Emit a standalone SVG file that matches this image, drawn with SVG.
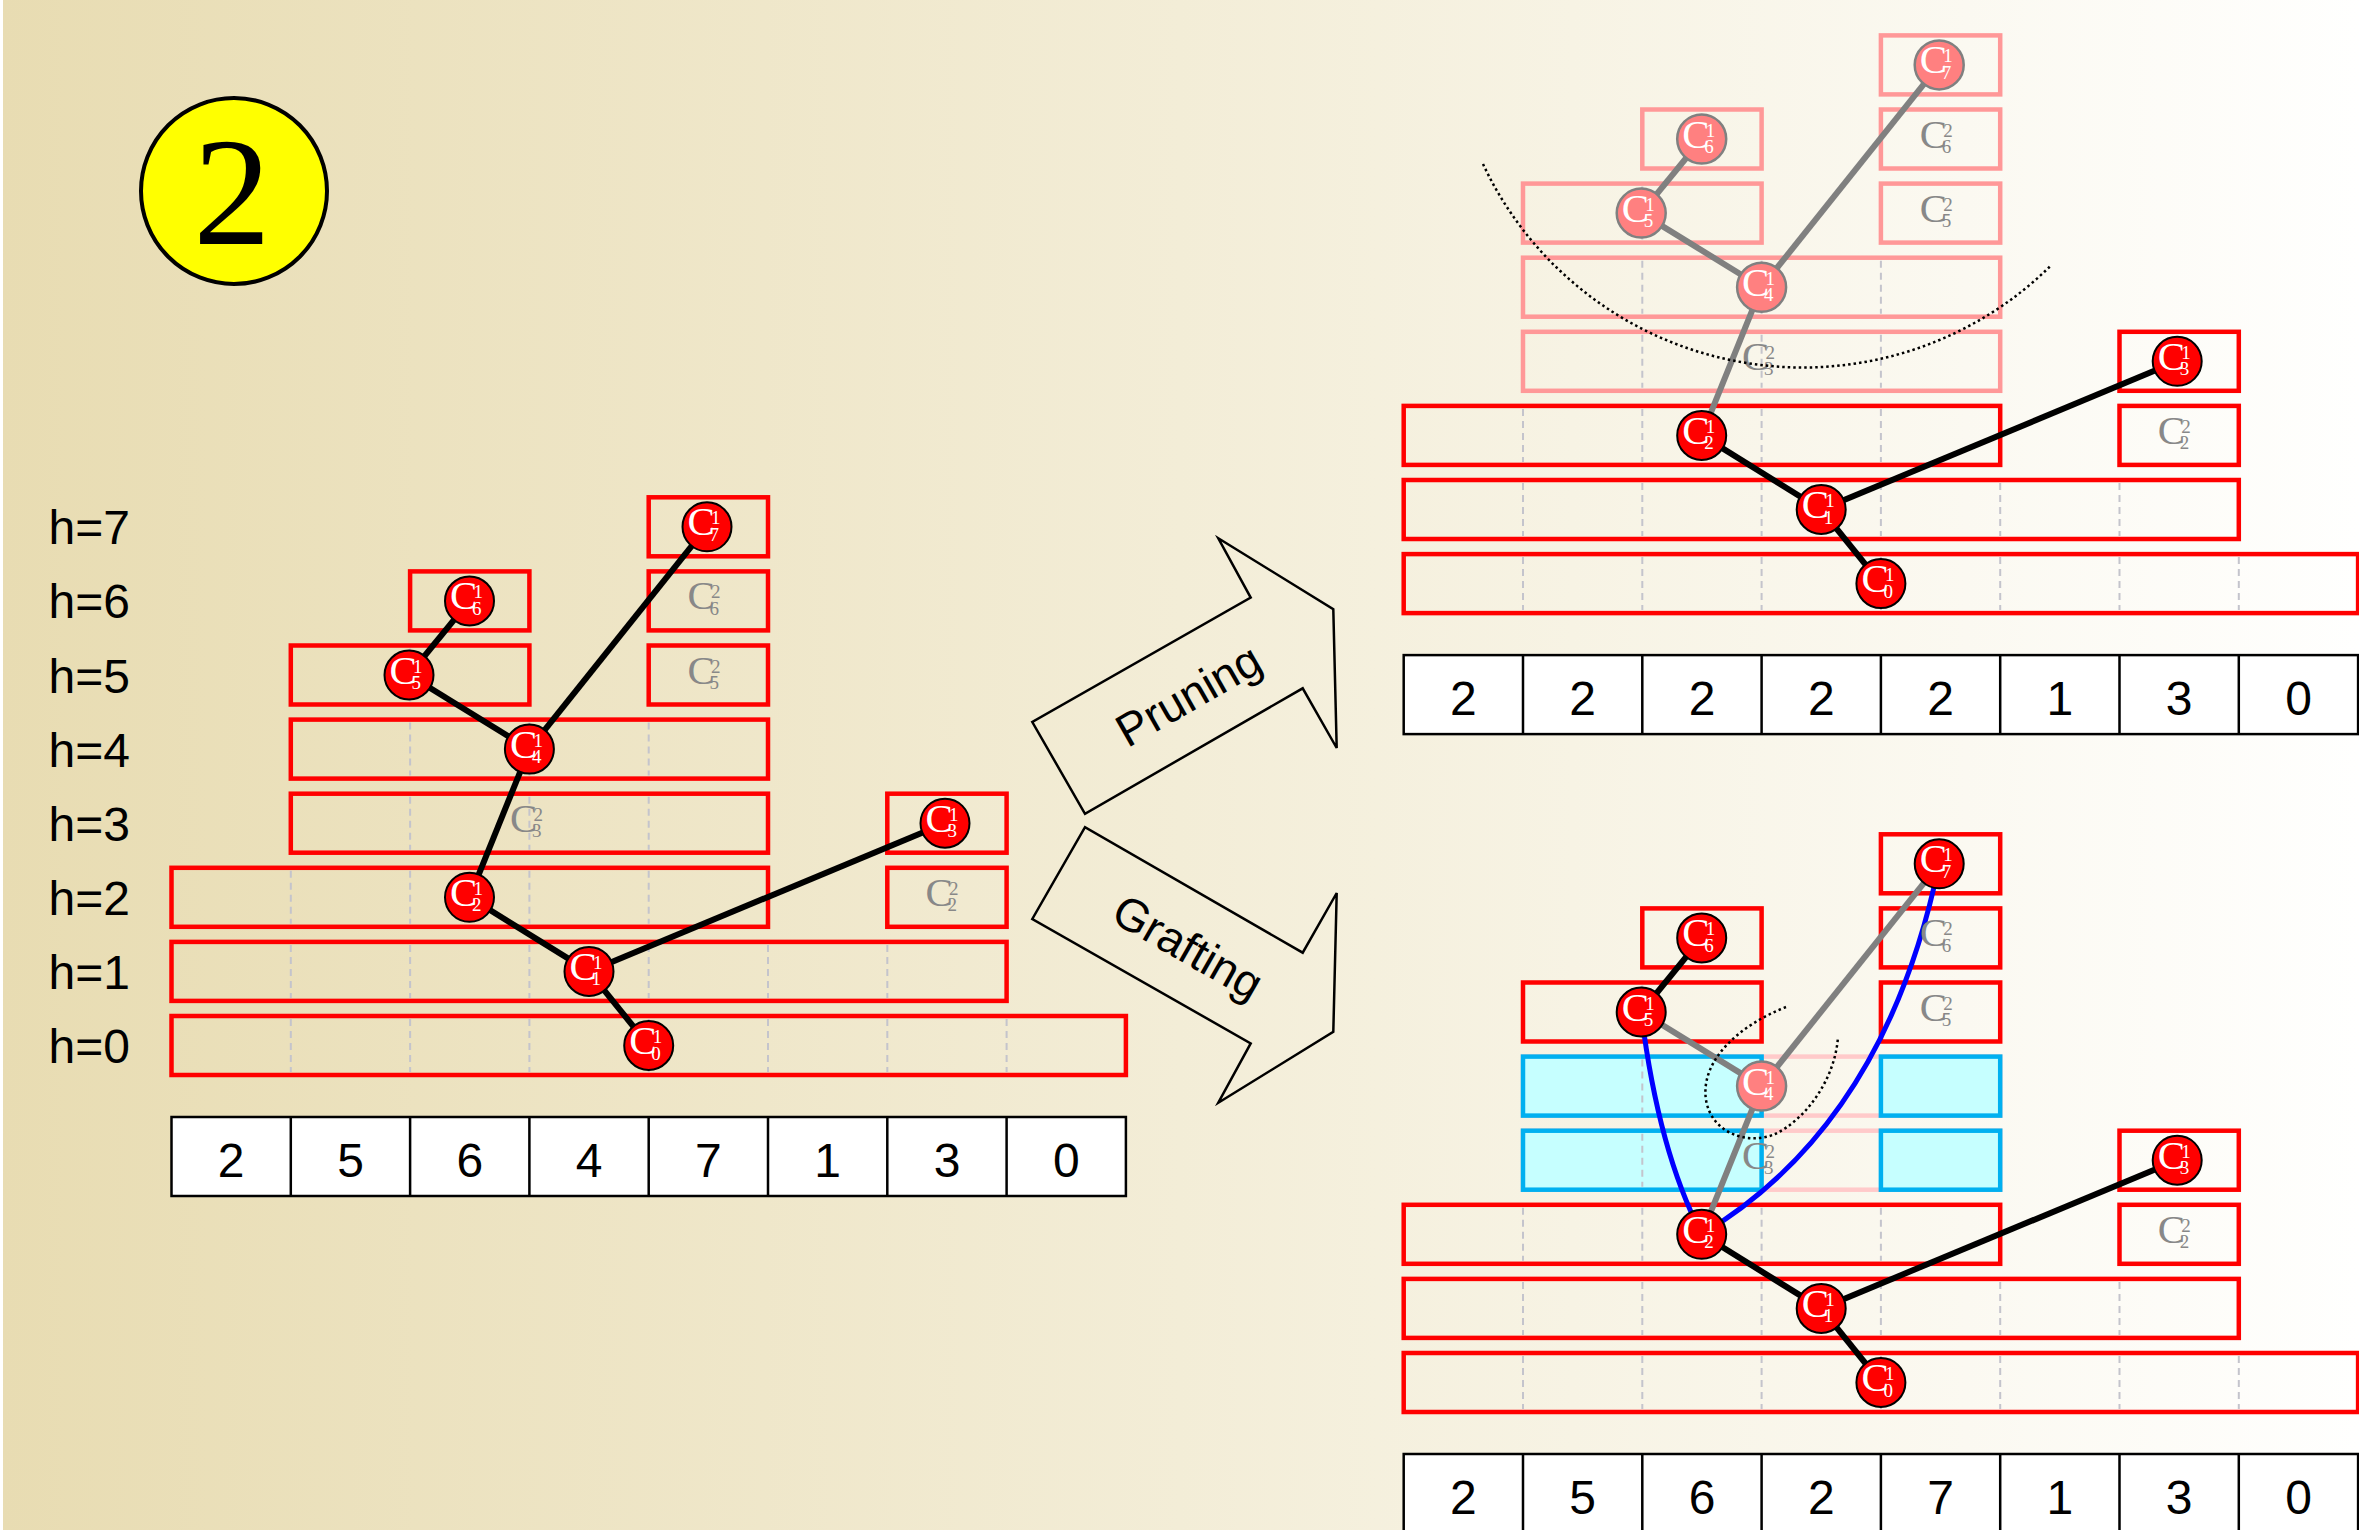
<svg xmlns="http://www.w3.org/2000/svg" width="2359" height="1530" viewBox="0 0 2359 1530">
  <defs>
    <linearGradient id="bgGrad" x1="0" y1="0" x2="1" y2="0">
      <stop offset="0" stop-color="#E8DCB2"/>
      <stop offset="0.5" stop-color="#F3EDD7"/>
      <stop offset="1" stop-color="#FFFFFE"/>
    </linearGradient>
    <style>
      .row{fill:none;stroke:#FF0000;stroke-width:4.5}
      .row-f{fill:none;stroke:#FF9898;stroke-width:4.5}
      .row-g{fill:none;stroke:#FFCACA;stroke-width:4.5}
      .row-c{fill:#C6FFFF;stroke:#00B0F0;stroke-width:4.5}
      .grid{fill:none;stroke:#C4C4CC;stroke-width:2;stroke-dasharray:7 5}
      .edge{stroke:#000;stroke-width:6}
      .edge-f{stroke:#808080;stroke-width:6}
      .graft{fill:none;stroke:#0000FF;stroke-width:5}
      .cut{fill:none;stroke:#000;stroke-width:2.5;stroke-dasharray:2.5 3}
      .nd circle{fill:#FF0000;stroke:#000;stroke-width:2}
      .nd.f circle{fill:#FF8080;stroke:#808080;stroke-width:2.5}
      .nd text{fill:#FFFFFF}
      .gh text{fill:#888888}
      .cb{font-family:"Liberation Serif","Times New Roman",serif;font-size:41px}
      .cs{font-size:19px}
      .cell{fill:#FFFFFF;stroke:#000;stroke-width:2.5}
      .num{font-family:"Liberation Sans",Arial,sans-serif;font-size:48px;text-anchor:middle;fill:#000}
      .hl{font-family:"Liberation Sans",Arial,sans-serif;font-size:48px;fill:#000}
      .arrow{fill:none;stroke:#000;stroke-width:2.5;stroke-linejoin:miter}
      .alabel{font-family:"Liberation Sans",Arial,sans-serif;font-size:46px;text-anchor:middle;fill:#000}
    </style>
  </defs>

  <!-- background -->
  <rect x="0" y="0" width="2359" height="1530" fill="url(#bgGrad)"/>
  <rect x="0" y="0" width="3" height="1530" fill="#FFFFFF"/>

  <!-- step badge -->
  <g id="step-badge">
    <circle cx="234" cy="191" r="93" fill="#FFFF00" stroke="#000" stroke-width="4"/>
    <text x="232" y="244" font-family="Liberation Serif, Times New Roman, serif" font-size="155" text-anchor="middle" fill="#000">2</text>
  </g>

  <!-- height labels -->
  <g id="height-labels">
    <text class="hl" x="48.5" y="544.3">h=7</text>
    <text class="hl" x="48.5" y="618.4">h=6</text>
    <text class="hl" x="48.5" y="692.5">h=5</text>
    <text class="hl" x="48.5" y="766.6">h=4</text>
    <text class="hl" x="48.5" y="840.7">h=3</text>
    <text class="hl" x="48.5" y="914.8">h=2</text>
    <text class="hl" x="48.5" y="988.9">h=1</text>
    <text class="hl" x="48.5" y="1063">h=0</text>
  </g>

  <!-- operation arrows -->
  <g id="arrow-pruning">
    <polygon class="arrow" points="1218.3,538.3 1333.3,609.1 1336.7,748 1302.7,688.3 1085,813.8 1032.3,722 1250.7,597.6"/>
    <text class="alabel" transform="translate(1188.5,695) rotate(-29.7)" y="16">Pruning</text>
  </g>
  <g id="arrow-grafting">
    <polygon class="arrow" points="1218.3,1102.7 1333.3,1031.9 1336.7,893 1302.7,952.7 1085,827.2 1032.3,919 1250.7,1043.4"/>
    <text class="alabel" transform="translate(1188,947) rotate(29.7)" y="16">Grafting</text>
  </g>

  <!-- ===================== input tree ===================== -->
  <g id="panel-input">
    <g id="input-rows">
      <rect class="row" x="171.5" y="1016" width="954.4" height="59"/>
      <rect class="row" x="171.5" y="941.9" width="835.1" height="59"/>
      <rect class="row" x="171.5" y="867.8" width="596.5" height="59"/>
      <rect class="row" x="290.8" y="793.7" width="477.2" height="59"/>
      <rect class="row" x="290.8" y="719.6" width="477.2" height="59"/>
      <rect class="row" x="290.8" y="645.5" width="238.6" height="59"/>
      <rect class="row" x="410.1" y="571.4" width="119.3" height="59"/>
      <rect class="row" x="648.7" y="497.3" width="119.3" height="59"/>
      <rect class="row" x="648.7" y="571.4" width="119.3" height="59"/>
      <rect class="row" x="648.7" y="645.5" width="119.3" height="59"/>
      <rect class="row" x="887.3" y="793.7" width="119.3" height="59"/>
      <rect class="row" x="887.3" y="867.8" width="119.3" height="59"/>
    </g>
    <path class="grid" d="M290.8 1019V1072M410.1 1019V1072M529.4 1019V1072M648.7 1019V1072M768 1019V1072M887.3 1019V1072M1006.6 1019V1072M290.8 944.9V997.9M410.1 944.9V997.9M529.4 944.9V997.9M648.7 944.9V997.9M768 944.9V997.9M887.3 944.9V997.9M290.8 870.8V923.8M410.1 870.8V923.8M529.4 870.8V923.8M648.7 870.8V923.8M410.1 796.7V849.7M529.4 796.7V849.7M648.7 796.7V849.7M410.1 722.6V775.6M529.4 722.6V775.6M648.7 722.6V775.6M410.1 648.5V701.5"/>
    <g id="input-connectors">
      <line class="edge" x1="469.5" y1="600.9" x2="409" y2="675"/>
      <line class="edge" x1="409" y1="675" x2="529.4" y2="749.1"/>
      <line class="edge" x1="529.4" y1="749.1" x2="707" y2="526.8"/>
      <line class="edge" x1="529.4" y1="749.1" x2="469.5" y2="897.3"/>
      <line class="edge" x1="469.5" y1="897.3" x2="589" y2="971.4"/>
      <line class="edge" x1="589" y1="971.4" x2="945" y2="823.2"/>
      <line class="edge" x1="589" y1="971.4" x2="648.7" y2="1045.5"/>
    </g>
    <g id="in-c23" class="gh" transform="translate(529.4,823.2)"><text class="cb" x="-19.5" y="8.5">C<tspan class="cs" x="4" y="-2.5">2</tspan><tspan class="cs" x="2.5" y="14">3</tspan></text></g>
    <g id="in-c26" class="gh" transform="translate(707,600.9)"><text class="cb" x="-19.5" y="8.5">C<tspan class="cs" x="4" y="-2.5">2</tspan><tspan class="cs" x="2.5" y="14">6</tspan></text></g>
    <g id="in-c25" class="gh" transform="translate(707,675)"><text class="cb" x="-19.5" y="8.5">C<tspan class="cs" x="4" y="-2.5">2</tspan><tspan class="cs" x="2.5" y="14">5</tspan></text></g>
    <g id="in-c22" class="gh" transform="translate(945,897.3)"><text class="cb" x="-19.5" y="8.5">C<tspan class="cs" x="4" y="-2.5">2</tspan><tspan class="cs" x="2.5" y="14">2</tspan></text></g>
    <g id="in-c10" class="nd" transform="translate(648.7,1045.5)"><circle r="24.5"/><text class="cb" x="-19.5" y="8.5">C<tspan class="cs" x="4" y="-2.5">1</tspan><tspan class="cs" x="2.5" y="14">0</tspan></text></g>
    <g id="in-c11" class="nd" transform="translate(589,971.4)"><circle r="24.5"/><text class="cb" x="-19.5" y="8.5">C<tspan class="cs" x="4" y="-2.5">1</tspan><tspan class="cs" x="2.5" y="14">1</tspan></text></g>
    <g id="in-c12" class="nd" transform="translate(469.5,897.3)"><circle r="24.5"/><text class="cb" x="-19.5" y="8.5">C<tspan class="cs" x="4" y="-2.5">1</tspan><tspan class="cs" x="2.5" y="14">2</tspan></text></g>
    <g id="in-c13" class="nd" transform="translate(945,823.2)"><circle r="24.5"/><text class="cb" x="-19.5" y="8.5">C<tspan class="cs" x="4" y="-2.5">1</tspan><tspan class="cs" x="2.5" y="14">3</tspan></text></g>
    <g id="in-c14" class="nd" transform="translate(529.4,749.1)"><circle r="24.5"/><text class="cb" x="-19.5" y="8.5">C<tspan class="cs" x="4" y="-2.5">1</tspan><tspan class="cs" x="2.5" y="14">4</tspan></text></g>
    <g id="in-c15" class="nd" transform="translate(409,675)"><circle r="24.5"/><text class="cb" x="-19.5" y="8.5">C<tspan class="cs" x="4" y="-2.5">1</tspan><tspan class="cs" x="2.5" y="14">5</tspan></text></g>
    <g id="in-c16" class="nd" transform="translate(469.5,600.9)"><circle r="24.5"/><text class="cb" x="-19.5" y="8.5">C<tspan class="cs" x="4" y="-2.5">1</tspan><tspan class="cs" x="2.5" y="14">6</tspan></text></g>
    <g id="in-c17" class="nd" transform="translate(707,526.8)"><circle r="24.5"/><text class="cb" x="-19.5" y="8.5">C<tspan class="cs" x="4" y="-2.5">1</tspan><tspan class="cs" x="2.5" y="14">7</tspan></text></g>
    <g id="in-table">
      <rect class="cell" x="171.5" y="1117" width="954.4" height="79"/>
      <path stroke="#000" stroke-width="2.5" d="M290.8 1117V1196M410.1 1117V1196M529.4 1117V1196M648.7 1117V1196M768 1117V1196M887.3 1117V1196M1006.6 1117V1196"/>
      <text class="num" x="231.2" y="1177">2</text>
      <text class="num" x="350.5" y="1177">5</text>
      <text class="num" x="469.8" y="1177">6</text>
      <text class="num" x="589.1" y="1177">4</text>
      <text class="num" x="708.4" y="1177">7</text>
      <text class="num" x="827.7" y="1177">1</text>
      <text class="num" x="947" y="1177">3</text>
      <text class="num" x="1066.3" y="1177">0</text>
    </g>
  </g>

  <!-- ===================== pruned tree ===================== -->
  <g id="panel-pruned" transform="translate(1232.2,-461.9)">
    <g id="pruned-rows">
      <rect class="row" x="171.5" y="1016" width="954.4" height="59"/>
      <rect class="row" x="171.5" y="941.9" width="835.1" height="59"/>
      <rect class="row" x="171.5" y="867.8" width="596.5" height="59"/>
      <rect class="row-f" x="290.8" y="793.7" width="477.2" height="59"/>
      <rect class="row-f" x="290.8" y="719.6" width="477.2" height="59"/>
      <rect class="row-f" x="290.8" y="645.5" width="238.6" height="59"/>
      <rect class="row-f" x="410.1" y="571.4" width="119.3" height="59"/>
      <rect class="row-f" x="648.7" y="497.3" width="119.3" height="59"/>
      <rect class="row-f" x="648.7" y="571.4" width="119.3" height="59"/>
      <rect class="row-f" x="648.7" y="645.5" width="119.3" height="59"/>
      <rect class="row" x="887.3" y="793.7" width="119.3" height="59"/>
      <rect class="row" x="887.3" y="867.8" width="119.3" height="59"/>
    </g>
    <path class="grid" d="M290.8 1019V1072M410.1 1019V1072M529.4 1019V1072M648.7 1019V1072M768 1019V1072M887.3 1019V1072M1006.6 1019V1072M290.8 944.9V997.9M410.1 944.9V997.9M529.4 944.9V997.9M648.7 944.9V997.9M768 944.9V997.9M887.3 944.9V997.9M290.8 870.8V923.8M410.1 870.8V923.8M529.4 870.8V923.8M648.7 870.8V923.8M410.1 796.7V849.7M529.4 796.7V849.7M648.7 796.7V849.7M410.1 722.6V775.6M529.4 722.6V775.6M648.7 722.6V775.6M410.1 648.5V701.5"/>
    <g id="pruned-connectors">
      <line class="edge-f" x1="469.5" y1="600.9" x2="409" y2="675"/>
      <line class="edge-f" x1="409" y1="675" x2="529.4" y2="749.1"/>
      <line class="edge-f" x1="529.4" y1="749.1" x2="707" y2="526.8"/>
      <line class="edge-f" x1="529.4" y1="749.1" x2="469.5" y2="897.3"/>
      <line class="edge" x1="469.5" y1="897.3" x2="589" y2="971.4"/>
      <line class="edge" x1="589" y1="971.4" x2="945" y2="823.2"/>
      <line class="edge" x1="589" y1="971.4" x2="648.7" y2="1045.5"/>
    </g>
    <g id="pr-c23" class="gh" transform="translate(529.4,823.2)"><text class="cb" x="-19.5" y="8.5">C<tspan class="cs" x="4" y="-2.5">2</tspan><tspan class="cs" x="2.5" y="14">3</tspan></text></g>
    <g id="pr-c26" class="gh" transform="translate(707,600.9)"><text class="cb" x="-19.5" y="8.5">C<tspan class="cs" x="4" y="-2.5">2</tspan><tspan class="cs" x="2.5" y="14">6</tspan></text></g>
    <g id="pr-c25" class="gh" transform="translate(707,675)"><text class="cb" x="-19.5" y="8.5">C<tspan class="cs" x="4" y="-2.5">2</tspan><tspan class="cs" x="2.5" y="14">5</tspan></text></g>
    <g id="pr-c22" class="gh" transform="translate(945,897.3)"><text class="cb" x="-19.5" y="8.5">C<tspan class="cs" x="4" y="-2.5">2</tspan><tspan class="cs" x="2.5" y="14">2</tspan></text></g>
    <g id="pr-c10" class="nd" transform="translate(648.7,1045.5)"><circle r="24.5"/><text class="cb" x="-19.5" y="8.5">C<tspan class="cs" x="4" y="-2.5">1</tspan><tspan class="cs" x="2.5" y="14">0</tspan></text></g>
    <g id="pr-c11" class="nd" transform="translate(589,971.4)"><circle r="24.5"/><text class="cb" x="-19.5" y="8.5">C<tspan class="cs" x="4" y="-2.5">1</tspan><tspan class="cs" x="2.5" y="14">1</tspan></text></g>
    <g id="pr-c12" class="nd" transform="translate(469.5,897.3)"><circle r="24.5"/><text class="cb" x="-19.5" y="8.5">C<tspan class="cs" x="4" y="-2.5">1</tspan><tspan class="cs" x="2.5" y="14">2</tspan></text></g>
    <g id="pr-c13" class="nd" transform="translate(945,823.2)"><circle r="24.5"/><text class="cb" x="-19.5" y="8.5">C<tspan class="cs" x="4" y="-2.5">1</tspan><tspan class="cs" x="2.5" y="14">3</tspan></text></g>
    <g id="pr-c14" class="nd f" transform="translate(529.4,749.1)"><circle r="24.5"/><text class="cb" x="-19.5" y="8.5">C<tspan class="cs" x="4" y="-2.5">1</tspan><tspan class="cs" x="2.5" y="14">4</tspan></text></g>
    <g id="pr-c15" class="nd f" transform="translate(409,675)"><circle r="24.5"/><text class="cb" x="-19.5" y="8.5">C<tspan class="cs" x="4" y="-2.5">1</tspan><tspan class="cs" x="2.5" y="14">5</tspan></text></g>
    <g id="pr-c16" class="nd f" transform="translate(469.5,600.9)"><circle r="24.5"/><text class="cb" x="-19.5" y="8.5">C<tspan class="cs" x="4" y="-2.5">1</tspan><tspan class="cs" x="2.5" y="14">6</tspan></text></g>
    <g id="pr-c17" class="nd f" transform="translate(707,526.8)"><circle r="24.5"/><text class="cb" x="-19.5" y="8.5">C<tspan class="cs" x="4" y="-2.5">1</tspan><tspan class="cs" x="2.5" y="14">7</tspan></text></g>
    <g id="pr-table">
      <rect class="cell" x="171.5" y="1117" width="954.4" height="79"/>
      <path stroke="#000" stroke-width="2.5" d="M290.8 1117V1196M410.1 1117V1196M529.4 1117V1196M648.7 1117V1196M768 1117V1196M887.3 1117V1196M1006.6 1117V1196"/>
      <text class="num" x="231.2" y="1177">2</text>
      <text class="num" x="350.5" y="1177">2</text>
      <text class="num" x="469.8" y="1177">2</text>
      <text class="num" x="589.1" y="1177">2</text>
      <text class="num" x="708.4" y="1177">2</text>
      <text class="num" x="827.7" y="1177">1</text>
      <text class="num" x="947" y="1177">3</text>
      <text class="num" x="1066.3" y="1177">0</text>
    </g>
  </g>
  <path id="prune-cut" class="cut" d="M1483 164A353 353 0 0 0 2050 266.5"/>

  <!-- ===================== grafted tree ===================== -->
  <g id="panel-grafted" transform="translate(1232.2,337)">
    <g id="grafted-rows">
      <rect class="row-g" x="290.8" y="793.7" width="477.2" height="59"/>
      <rect class="row-g" x="290.8" y="719.6" width="477.2" height="59"/>
      <rect class="row-c" x="290.8" y="793.7" width="238.6" height="59"/>
      <rect class="row-c" x="290.8" y="719.6" width="238.6" height="59"/>
      <rect class="row-c" x="648.7" y="793.7" width="119.3" height="59"/>
      <rect class="row-c" x="648.7" y="719.6" width="119.3" height="59"/>
      <rect class="row" x="171.5" y="1016" width="954.4" height="59"/>
      <rect class="row" x="171.5" y="941.9" width="835.1" height="59"/>
      <rect class="row" x="171.5" y="867.8" width="596.5" height="59"/>
      <rect class="row" x="290.8" y="645.5" width="238.6" height="59"/>
      <rect class="row" x="410.1" y="571.4" width="119.3" height="59"/>
      <rect class="row" x="648.7" y="497.3" width="119.3" height="59"/>
      <rect class="row" x="648.7" y="571.4" width="119.3" height="59"/>
      <rect class="row" x="648.7" y="645.5" width="119.3" height="59"/>
      <rect class="row" x="887.3" y="793.7" width="119.3" height="59"/>
      <rect class="row" x="887.3" y="867.8" width="119.3" height="59"/>
    </g>
    <path class="grid" d="M290.8 1019V1072M410.1 1019V1072M529.4 1019V1072M648.7 1019V1072M768 1019V1072M887.3 1019V1072M1006.6 1019V1072M290.8 944.9V997.9M410.1 944.9V997.9M529.4 944.9V997.9M648.7 944.9V997.9M768 944.9V997.9M887.3 944.9V997.9M290.8 870.8V923.8M410.1 870.8V923.8M529.4 870.8V923.8M648.7 870.8V923.8M410.1 796.7V849.7M410.1 722.6V775.6M410.1 648.5V701.5"/>
    <g id="grafted-connectors">
      <line class="edge" x1="469.5" y1="600.9" x2="409" y2="675"/>
      <line class="edge-f" x1="409" y1="675" x2="529.4" y2="749.1"/>
      <line class="edge-f" x1="529.4" y1="749.1" x2="707" y2="526.8"/>
      <line class="edge-f" x1="529.4" y1="749.1" x2="469.5" y2="897.3"/>
      <line class="edge" x1="469.5" y1="897.3" x2="589" y2="971.4"/>
      <line class="edge" x1="589" y1="971.4" x2="945" y2="823.2"/>
      <line class="edge" x1="589" y1="971.4" x2="648.7" y2="1045.5"/>
      <path class="graft" d="M409 675Q425.8 813 469.5 897.3"/>
      <path class="graft" d="M707 526.8Q652.8 788 469.5 897.3"/>
    </g>
    <g id="gr-c23" class="gh" transform="translate(529.4,823.2)"><text class="cb" x="-19.5" y="8.5">C<tspan class="cs" x="4" y="-2.5">2</tspan><tspan class="cs" x="2.5" y="14">3</tspan></text></g>
    <g id="gr-c26" class="gh" transform="translate(707,600.9)"><text class="cb" x="-19.5" y="8.5">C<tspan class="cs" x="4" y="-2.5">2</tspan><tspan class="cs" x="2.5" y="14">6</tspan></text></g>
    <g id="gr-c25" class="gh" transform="translate(707,675)"><text class="cb" x="-19.5" y="8.5">C<tspan class="cs" x="4" y="-2.5">2</tspan><tspan class="cs" x="2.5" y="14">5</tspan></text></g>
    <g id="gr-c22" class="gh" transform="translate(945,897.3)"><text class="cb" x="-19.5" y="8.5">C<tspan class="cs" x="4" y="-2.5">2</tspan><tspan class="cs" x="2.5" y="14">2</tspan></text></g>
    <g id="gr-c10" class="nd" transform="translate(648.7,1045.5)"><circle r="24.5"/><text class="cb" x="-19.5" y="8.5">C<tspan class="cs" x="4" y="-2.5">1</tspan><tspan class="cs" x="2.5" y="14">0</tspan></text></g>
    <g id="gr-c11" class="nd" transform="translate(589,971.4)"><circle r="24.5"/><text class="cb" x="-19.5" y="8.5">C<tspan class="cs" x="4" y="-2.5">1</tspan><tspan class="cs" x="2.5" y="14">1</tspan></text></g>
    <g id="gr-c12" class="nd" transform="translate(469.5,897.3)"><circle r="24.5"/><text class="cb" x="-19.5" y="8.5">C<tspan class="cs" x="4" y="-2.5">1</tspan><tspan class="cs" x="2.5" y="14">2</tspan></text></g>
    <g id="gr-c13" class="nd" transform="translate(945,823.2)"><circle r="24.5"/><text class="cb" x="-19.5" y="8.5">C<tspan class="cs" x="4" y="-2.5">1</tspan><tspan class="cs" x="2.5" y="14">3</tspan></text></g>
    <g id="gr-c14" class="nd f" transform="translate(529.4,749.1)"><circle r="24.5"/><text class="cb" x="-19.5" y="8.5">C<tspan class="cs" x="4" y="-2.5">1</tspan><tspan class="cs" x="2.5" y="14">4</tspan></text></g>
    <g id="gr-c15" class="nd" transform="translate(409,675)"><circle r="24.5"/><text class="cb" x="-19.5" y="8.5">C<tspan class="cs" x="4" y="-2.5">1</tspan><tspan class="cs" x="2.5" y="14">5</tspan></text></g>
    <g id="gr-c16" class="nd" transform="translate(469.5,600.9)"><circle r="24.5"/><text class="cb" x="-19.5" y="8.5">C<tspan class="cs" x="4" y="-2.5">1</tspan><tspan class="cs" x="2.5" y="14">6</tspan></text></g>
    <g id="gr-c17" class="nd" transform="translate(707,526.8)"><circle r="24.5"/><text class="cb" x="-19.5" y="8.5">C<tspan class="cs" x="4" y="-2.5">1</tspan><tspan class="cs" x="2.5" y="14">7</tspan></text></g>
    <g id="gr-table">
      <rect class="cell" x="171.5" y="1117" width="954.4" height="79"/>
      <path stroke="#000" stroke-width="2.5" d="M290.8 1117V1196M410.1 1117V1196M529.4 1117V1196M648.7 1117V1196M768 1117V1196M887.3 1117V1196M1006.6 1117V1196"/>
      <text class="num" x="231.2" y="1177">2</text>
      <text class="num" x="350.5" y="1177">5</text>
      <text class="num" x="469.8" y="1177">6</text>
      <text class="num" x="589.1" y="1177">2</text>
      <text class="num" x="708.4" y="1177">7</text>
      <text class="num" x="827.7" y="1177">1</text>
      <text class="num" x="947" y="1177">3</text>
      <text class="num" x="1066.3" y="1177">0</text>
    </g>
  </g>
  <path id="graft-cut" class="cut" d="M1786 1007C1740 1025 1700 1060 1706 1100C1712 1135 1750 1145 1775 1134C1805 1120 1835 1080 1838 1037"/>
</svg>
